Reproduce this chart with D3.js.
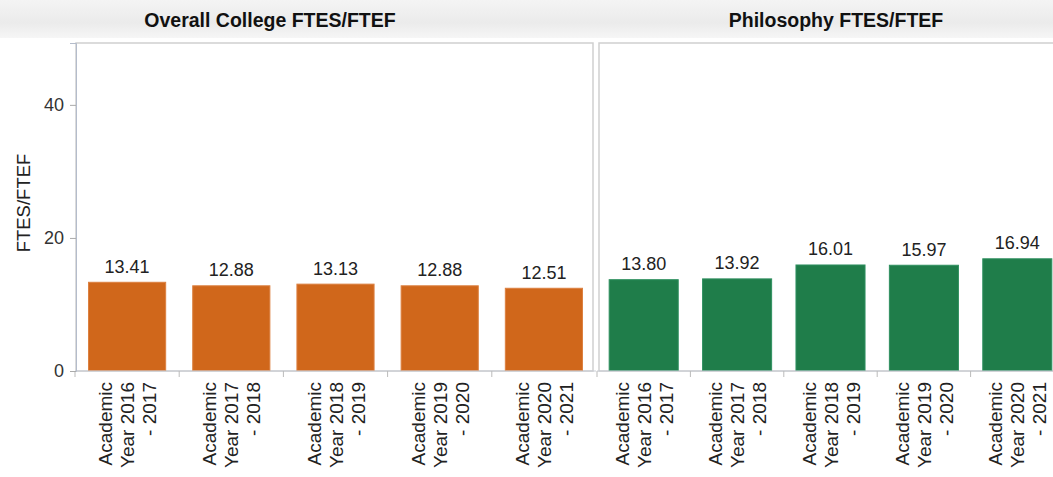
<!DOCTYPE html>
<html>
<head>
<meta charset="utf-8">
<script src="https://cdn.jsdelivr.net/npm/d3@7"></script>
<style>
    body { margin: 0; background: #fff; overflow: hidden; }
    text { font-family: "Liberation Sans", Arial, sans-serif; }
</style>
</head>
<body>
<div id="chart"></div>
<script>
// chart data
var categories = ["Academic Year 2016 - 2017", "Academic Year 2017 - 2018", "Academic Year 2018 - 2019",
    "Academic Year 2019 - 2020", "Academic Year 2020 - 2021"];
var categoryLines = [
    ["Academic", "Year 2016", "- 2017"],
    ["Academic", "Year 2017", "- 2018"],
    ["Academic", "Year 2018", "- 2019"],
    ["Academic", "Year 2019", "- 2020"],
    ["Academic", "Year 2020", "- 2021"]
];
var collegeValues = [13.41, 12.88, 13.13, 12.88, 12.51];
var philosophyValues = [13.80, 13.92, 16.01, 15.97, 16.94];
var yTicks = [0, 20, 40];
var panelTitles = ["Overall College FTES/FTEF", "Philosophy FTES/FTEF"];
var yTitle = "FTES/FTEF";

var svgWidth = 1053;
var svgHeight = 477;

var svg = d3.select("#chart")
    .append("svg")
    .attr("width", svgWidth)
    .attr("height", svgHeight);

// header band
var grad = svg.append("defs").append("linearGradient")
    .attr("id", "hdr").attr("x1", 0).attr("y1", 0).attr("x2", 0).attr("y2", 1);
grad.append("stop").attr("offset", "0%").attr("stop-color", "#f4f4f4");
grad.append("stop").attr("offset", "60%").attr("stop-color", "#ebebeb");
grad.append("stop").attr("offset", "100%").attr("stop-color", "#f6f6f6");
svg.append("rect")
    .attr("x", 0).attr("y", 0)
    .attr("width", svgWidth).attr("height", 38)
    .attr("fill", "url(#hdr)");

var yScale = d3.scaleLinear()
    .domain([0, 49.3])
    .range([371, 43]);

var panels = [
    { title: panelTitles[0], values: collegeValues, x0: 75, x1: 596, border: [76, 593], titleX: 270, color: "#d0671b", edge: "#dc8040" },
    { title: panelTitles[1], values: philosophyValues, x0: 597, x1: 1064, border: [599, 1070], titleX: 836, color: "#1f7d4a", edge: "#2f9060" }
];

panels.forEach(function(p) {
    var xScale = d3.scaleBand()
        .domain(categories)
        .range([p.x0, p.x1])
        .paddingInner(0.25)
        .paddingOuter(0.125);

    // panel frame
    svg.append("rect")
        .attr("x", p.border[0]).attr("y", yScale.range()[1])
        .attr("width", p.border[1] - p.border[0])
        .attr("height", yScale(0) - yScale.range()[1])
        .attr("fill", "none")
        .attr("stroke", "#cfcfcf")
        .attr("stroke-width", 1.5);

    // title
    svg.append("text")
        .attr("x", p.titleX)
        .attr("y", 27)
        .attr("text-anchor", "middle")
        .attr("font-size", 19.5)
        .attr("font-weight", "bold")
        .attr("fill", "#111")
        .text(p.title);

    // bars
    svg.append("g")
        .selectAll("rect")
        .data(p.values)
        .enter()
        .append("rect")
        .attr("x", (d, i) => xScale(categories[i]) + 0.5)
        .attr("y", d => yScale(d) + 0.5)
        .attr("width", xScale.bandwidth() - 1)
        .attr("height", d => yScale(0) - yScale(d) - 1)
        .attr("fill", p.color)
        .attr("stroke", p.edge)
        .attr("stroke-width", 1);

    // value labels
    svg.append("g")
        .selectAll("text")
        .data(p.values)
        .enter()
        .append("text")
        .attr("x", (d, i) => xScale(categories[i]) + xScale.bandwidth() / 2)
        .attr("y", d => yScale(d) - 9)
        .attr("text-anchor", "middle")
        .attr("font-size", 18)
        .attr("fill", "#222")
        .text(d => d.toFixed(2));

    // baseline and separators
    svg.append("line")
        .attr("x1", p.x0).attr("x2", p.x1)
        .attr("y1", yScale(0)).attr("y2", yScale(0))
        .attr("stroke", "#c8ccd4");
    var bounds = categories.map(c => xScale(c) - xScale.step() * xScale.paddingInner() / 2);
    svg.append("g")
        .selectAll("line")
        .data(bounds)
        .enter()
        .append("line")
        .attr("x1", d => d).attr("x2", d => d)
        .attr("y1", yScale(0)).attr("y2", yScale(0) + 6)
        .attr("stroke", "#bbb");

    // category labels, rotated
    var labels = svg.append("g")
        .selectAll("text")
        .data(categories)
        .enter()
        .append("text")
        .attr("transform", d => `translate(${xScale(d) + xScale.bandwidth() / 2}, 382) rotate(-90)`)
        .attr("text-anchor", "end")
        .attr("font-size", 19)
        .attr("fill", "#222");
    labels.each(function(d, i) {
        var t = d3.select(this);
        categoryLines[i].forEach(function(line, j) {
            t.append("tspan")
                .attr("x", 0)
                .attr("y", -15 + j * 22)
                .text(line);
        });
    });
});

// y axis
var axis = svg.append("g")
    .attr("transform", "translate(76, 0)")
    .call(d3.axisLeft(yScale).tickValues(yTicks).tickSize(6).tickPadding(6));
axis.select(".domain").attr("stroke", "#b4bccb");
axis.selectAll(".tick line").attr("stroke", "#aaa");
axis.selectAll(".tick text")
    .attr("font-size", 18)
    .attr("font-family", "Liberation Sans, Arial, sans-serif")
    .attr("fill", "#333");

svg.append("text")
    .attr("transform", "translate(30, 203) rotate(-90)")
    .attr("text-anchor", "middle")
    .attr("font-size", 18.5)
    .attr("fill", "#222")
    .text(yTitle);
</script>
</body>
</html>
